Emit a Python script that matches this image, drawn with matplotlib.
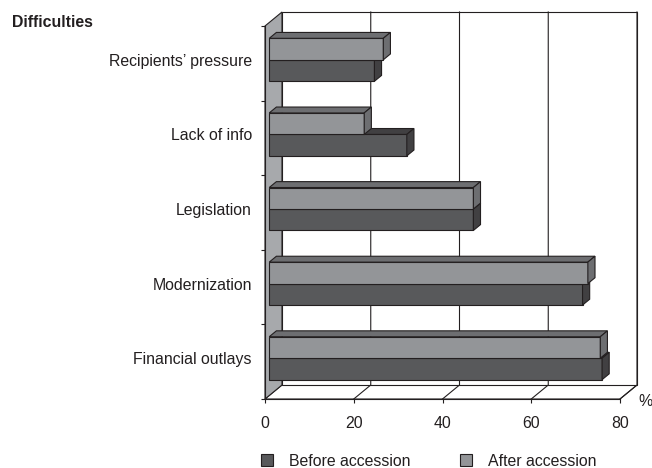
import matplotlib
matplotlib.use("Agg")
import matplotlib.pyplot as plt
from matplotlib.patches import Polygon, Rectangle

plt.rcParams['font.family'] = ['Liberation Sans', 'DejaVu Sans']

# ---- data ----
categories = ["Financial outlays", "Modernization", "Legislation",
              "Lack of info", "Recipients\u2019 pressure"]
before = [75.0, 70.6, 46.0, 31.0, 23.7]
after = [74.6, 71.8, 46.0, 21.4, 25.7]
series_names = ["Before accession", "After accession"]
xticks = [0, 20, 40, 60, 80]
y_title = "Difficulties"
x_unit = "%"

# ---- styles ----
W, H = 652, 468
LINE = "#231f20"
WALL = "#a7a9ac"
C_BEFORE = {"front": "#58595b", "top": "#414042", "side": "#414042"}
C_AFTER = {"front": "#939598", "top": "#6d6e71", "side": "#6d6e71"}
FS = 11.4

fig = plt.figure(figsize=(W / 100, H / 100), dpi=100)
ax = fig.add_axes([265 / W, 69 / H, 355 / W, 373 / H])
xmax = xticks[-1]
ncat = len(categories)
ax.set_xlim(0, xmax)
ax.set_ylim(0, ncat)

# oblique depth offsets (data units) derived from pixel depth 17 x 14
DX = 17 / (355 / xmax)
DY = 14 / (373 / ncat)


def P(x, y, d):
    return (x + d * DX, y + d * DY)


lw = 0.8
# floor
ax.add_patch(Polygon([P(0, 0, 0), P(xmax, 0, 0), P(xmax, 0, 1), P(0, 0, 1)],
                     closed=True, facecolor="white", edgecolor=LINE, lw=lw,
                     clip_on=False, zorder=1))
# back wall
ax.add_patch(Polygon([P(0, 0, 1), P(xmax, 0, 1), P(xmax, ncat, 1), P(0, ncat, 1)],
                     closed=True, facecolor="white", edgecolor=LINE, lw=lw,
                     clip_on=False, zorder=1))
# side wall
ax.add_patch(Polygon([P(0, 0, 0), P(0, ncat, 0), P(0, ncat, 1), P(0, 0, 1)],
                     closed=True, facecolor=WALL, edgecolor=LINE, lw=lw,
                     clip_on=False, zorder=2))
# grid lines
for t in xticks[1:]:
    xs, ys = zip(P(t, 0, 0), P(t, 0, 1), P(t, ncat, 1))
    ax.plot(xs, ys, color=LINE, lw=lw, clip_on=False, zorder=1.5)

# bars
f0, f1 = 0.25, 0.67
bh = 0.288


def bar3d(y0, y1, v, cols):
    ax.add_patch(Polygon([P(0, y0, f0), P(v, y0, f0), P(v, y1, f0), P(0, y1, f0)],
                         closed=True, facecolor=cols["front"], edgecolor=LINE,
                         lw=lw, clip_on=False, zorder=3, joinstyle="miter"))
    ax.add_patch(Polygon([P(0, y1, f0), P(v, y1, f0), P(v, y1, f1), P(0, y1, f1)],
                         closed=True, facecolor=cols["top"], edgecolor=LINE,
                         lw=lw, clip_on=False, zorder=3, joinstyle="miter"))
    ax.add_patch(Polygon([P(v, y0, f0), P(v, y0, f1), P(v, y1, f1), P(v, y1, f0)],
                         closed=True, facecolor=cols["side"], edgecolor=LINE,
                         lw=lw, clip_on=False, zorder=3, joinstyle="miter"))


for i, (b, a) in enumerate(zip(before, after)):
    c = i + 0.5
    bar3d(c - bh, c, b, C_BEFORE)
    bar3d(c, c + bh, a, C_AFTER)
    ax.text(-2.93, c + f0 * DY, categories[i], ha="right", va="center_baseline",
            fontsize=FS, color="#231f20")

# axes / ticks
for s in ["top", "right"]:
    ax.spines[s].set_visible(False)
for s in ["left", "bottom"]:
    ax.spines[s].set_color(LINE)
    ax.spines[s].set_linewidth(lw)
    ax.spines[s].set_zorder(2.5)
ax.set_facecolor("none")
ax.set_xticks(xticks)
ax.set_xticklabels([str(t) for t in xticks], fontsize=FS, color="#231f20")
ax.set_yticks(range(ncat + 1))
ax.set_yticklabels([])
ax.tick_params(axis="both", direction="out", length=3, width=lw, color=LINE)
ax.tick_params(axis="x", pad=9)

fig.text(12 / W, 1 - 22.7 / H, y_title, fontsize=FS, fontweight="bold",
         ha="left", va="center", color="#231f20")
fig.text(638 / W, 1 - 401 / H, x_unit, fontsize=FS, ha="left", va="center",
         color="#231f20")

# legend
for (x0, name, cols) in [(261, series_names[0], C_BEFORE), (460, series_names[1], C_AFTER)]:
    fig.patches.append(Rectangle((x0 / W, 1 - 465.5 / H), 12 / W, 12 / H,
                                 transform=fig.transFigure, facecolor=cols["front"],
                                 edgecolor=LINE, lw=lw))
    fig.text((x0 + 28) / W, 1 - 461.5 / H, name, fontsize=FS, ha="left",
             va="center", color="#231f20")

fig.savefig("out.png", dpi=100)
